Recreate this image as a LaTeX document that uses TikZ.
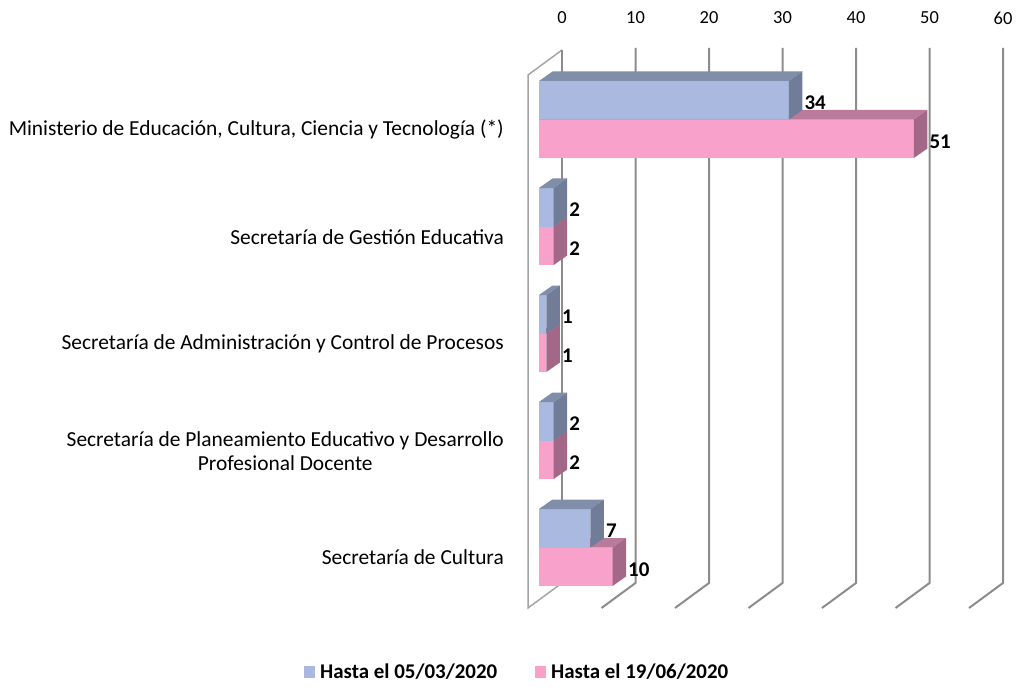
\documentclass[tikz,border=0pt]{standalone}
\usepackage{fontspec}
\setmainfont{Carlito}
\definecolor{bfront}{RGB}{169,185,223}
\definecolor{btop}{RGB}{128,142,170}
\definecolor{bside}{RGB}{112,124,152}
\definecolor{pfront}{RGB}{247,161,203}
\definecolor{ptop}{RGB}{186,122,155}
\definecolor{pside}{RGB}{163,104,135}
\definecolor{gridc}{RGB}{140,140,140}
\definecolor{wallc}{RGB}{165,165,165}
\tikzset{
  grid line/.style={draw=gridc, line width=2bp},
  wall line/.style={draw=wallc, line width=1.5bp},
  cat/.style={anchor=east, font=\fontsize{21.5}{24}\selectfont, inner sep=0pt, align=center},
  tick/.style={font=\fontsize{18.5}{21}\selectfont, inner sep=0pt},
  val/.style={anchor=west, font=\fontsize{21}{24}\selectfont\bfseries, inner sep=0pt},
  leg/.style={anchor=west, font=\fontsize{21}{24}\selectfont\bfseries, inner sep=0pt},
}
% #1 value, #2 top y, #3 front, #4 top, #5 side, #6 name
\newcommand\threedbar[6]{%
  \pgfmathsetmacro\xa{539}%
  \pgfmathsetmacro\xb{539+7.35*#1}%
  \pgfmathsetmacro\ya{#2}%
  \pgfmathsetmacro\yb{#2+38.5}%
  \fill[#3] (\xa,\ya) rectangle (\xb,\yb);
  \fill[#4] (\xa,\ya) -- (\xa+13.5,\ya-9.5) -- (\xb+13.5,\ya-9.5) -- (\xb,\ya) -- cycle;
  \fill[#5] (\xb,\ya) -- (\xb+13.5,\ya-9.5) -- (\xb+13.5,\yb-9.5) -- (\xb,\yb) -- cycle;
  \node[val] (#6) at (\xb+15.5,\ya+22) {#1};
}
\begin{document}
\begin{tikzpicture}[x=1bp,y=-1bp]
\useasboundingbox (0,0) rectangle (1019,688);
% left wall
\draw[wall line] (562,50) -- (528,75) -- (528,608) -- (562,583);
% grid lines
\foreach \v [count=\i from 0] in {0,10,20,30,40,50,60} {
  \pgfmathsetmacro\gx{562+7.35*\v}
  \ifnum\i=0
    \draw[grid line] (\gx,50) -- (\gx,583);
  \else
    \draw[grid line] (\gx,48) -- (\gx,583) -- (\gx-34,608);
  \fi
  \node[tick] (t\i) at (\gx,18) {\v};
}
% bars
\threedbar{51}{119.5}{pfront}{ptop}{pside}{v1b}
\threedbar{34}{81}{bfront}{btop}{bside}{v1a}
\threedbar{2}{226.5}{pfront}{ptop}{pside}{v2b}
\threedbar{2}{188}{bfront}{btop}{bside}{v2a}
\threedbar{1}{333.5}{pfront}{ptop}{pside}{v3b}
\threedbar{1}{295}{bfront}{btop}{bside}{v3a}
\threedbar{2}{440.5}{pfront}{ptop}{pside}{v4b}
\threedbar{2}{402}{bfront}{btop}{bside}{v4a}
\threedbar{10}{547.5}{pfront}{ptop}{pside}{v5b}
\threedbar{7}{509}{bfront}{btop}{bside}{v5a}
% category labels
\node[cat] (c1) at (504,130) {Ministerio de Educación, Cultura, Ciencia y Tecnología (*)};
\node[cat] (c2) at (504,237) {Secretaría de Gestión Educativa};
\node[cat] (c3) at (504,344) {Secretaría de Administración y Control de Procesos};
\node[cat] (c4) at (504,451) {Secretaría de Planeamiento Educativo y Desarrollo\\Profesional Docente};
\node[cat] (c5) at (504,557) {Secretaría de Cultura};
% legend
\fill[bfront] (304,666) rectangle (315,678);
\node[leg] (l1) at (320,672) {Hasta el 05/03/2020};
\fill[pfront] (535,666) rectangle (546,678);
\node[leg] (l2) at (551,672) {Hasta el 19/06/2020};
\end{tikzpicture}
\end{document}
